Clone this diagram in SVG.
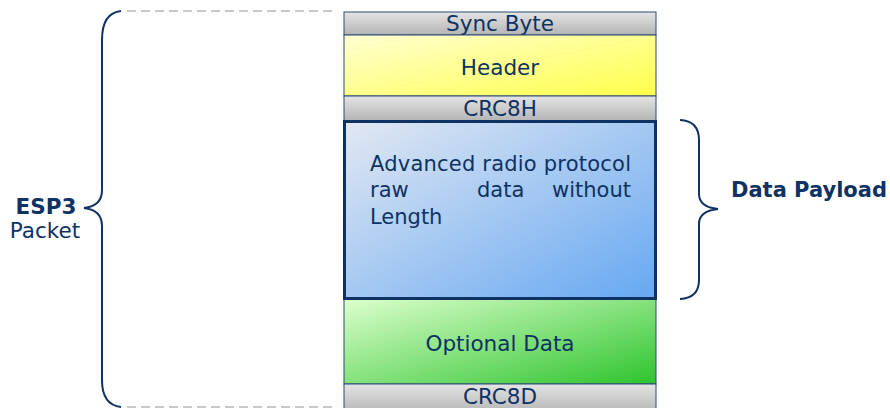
<svg xmlns="http://www.w3.org/2000/svg" width="890" height="408" viewBox="0 0 890 408">
<defs>
<linearGradient id="gGray" x1="0" y1="0" x2="0" y2="1"><stop offset="0" stop-color="#e4e4e4"/><stop offset="1" stop-color="#b4b4b4"/></linearGradient>
<linearGradient id="gYel" x1="0" y1="0" x2="1" y2="1"><stop offset="0" stop-color="#ffffd2"/><stop offset="1" stop-color="#ffff4a"/></linearGradient>
<linearGradient id="gBlue" x1="0" y1="0" x2="1" y2="1"><stop offset="0" stop-color="#e2e8f2"/><stop offset="1" stop-color="#66a8f2"/></linearGradient>
<linearGradient id="gGreen" x1="0" y1="0" x2="1" y2="1"><stop offset="0" stop-color="#dcffcc"/><stop offset="1" stop-color="#2ec42e"/></linearGradient>
<style>
.t{font-family:"DejaVu Sans",Verdana,sans-serif;fill:#0e3263;}
.c{font-size:21.5px;text-anchor:middle;}
.p{font-size:21px;}
.b{stroke:#2b4a78;stroke-width:1;}
.brace{fill:none;stroke:#0e3263;stroke-width:2;}
.dash{stroke:#c8c8c8;stroke-width:2;stroke-dasharray:9,5;fill:none;}
</style>
</defs>
<g id="connectors">
<line class="dash" x1="127" y1="11" x2="334" y2="11"/>
<line class="dash" x1="127" y1="407" x2="334" y2="407"/>
<path class="brace" d="M121,11 Q102,13 102,40 L102,190 Q102,206 84,208 Q102,210 102,226 L102,380 Q102,405 121,407"/>
<path class="brace" d="M680,120 Q699,121 699,140 L699,194 Q699,207 718,209 Q699,211 699,224 L699,280 Q699,298 680,299"/>
</g>
<g id="sync"><rect class="b" x="344" y="12" width="312" height="23" fill="url(#gGray)"/><text class="t c" x="500" y="31">Sync Byte</text></g>
<g id="header"><rect class="b" x="344" y="35" width="312" height="61" fill="url(#gYel)"/><text class="t c" x="500" y="75">Header</text></g>
<g id="crc8h"><rect class="b" x="344" y="96" width="312" height="25" fill="url(#gGray)"/><text class="t c" x="500" y="116">CRC8H</text></g>
<g id="optional"><rect class="b" x="344" y="299" width="312" height="85" fill="url(#gGreen)"/><text class="t c" x="500" y="351">Optional Data</text></g>
<g id="crc8d"><rect class="b" x="344" y="384" width="312" height="30" fill="url(#gGray)"/><text class="t c" x="500" y="404">CRC8D</text></g>
<g id="payload"><rect x="344.5" y="121.5" width="311" height="177" fill="url(#gBlue)" stroke="#0e3263" stroke-width="3"/>
<text class="t p" x="370" y="171" textLength="261" lengthAdjust="spacing">Advanced radio protocol</text>
<text class="t p" x="370" y="197">raw</text>
<text class="t p" x="477" y="197">data</text>
<text class="t p" x="631" y="197" text-anchor="end">without</text>
<text class="t p" x="370" y="224">Length</text>
</g>
<g id="esp3"><text class="t" font-size="21.5" font-weight="bold" text-anchor="middle" x="46" y="214">ESP3</text><text class="t" font-size="21.5" text-anchor="middle" x="45" y="238">Packet</text></g>
<g id="datapayload"><text class="t" font-size="21" font-weight="bold" x="731" y="197">Data Payload</text></g>
</svg>
